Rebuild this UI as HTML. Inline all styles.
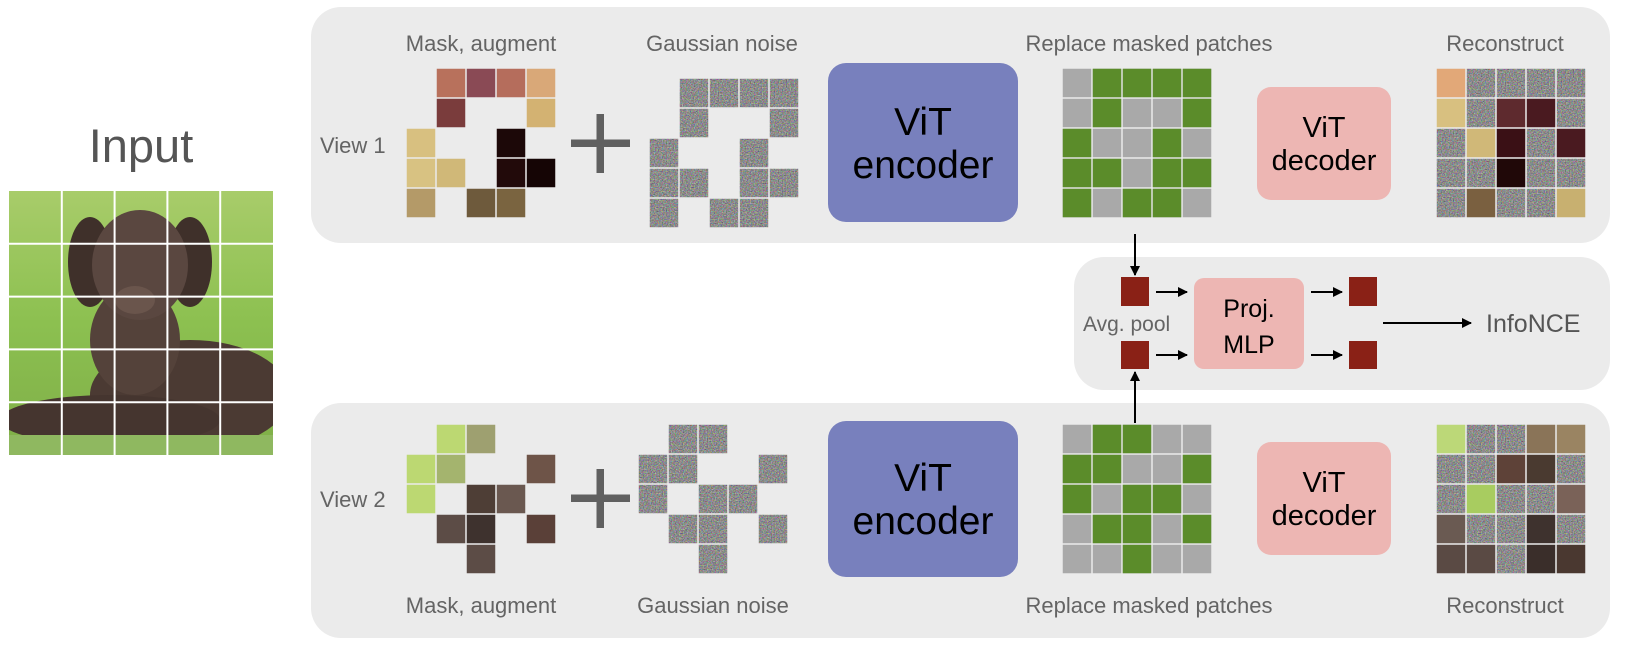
<!DOCTYPE html>
<html><head><meta charset="utf-8"><style>
html,body{margin:0;padding:0;background:#fff}
svg{display:block}
text{font-family:"Liberation Sans",Arial,sans-serif}
</style></head><body>
<svg width="1626" height="646" viewBox="0 0 1626 646" xmlns="http://www.w3.org/2000/svg">
<defs>
<filter id="nz" x="0" y="0" width="1" height="1" color-interpolation-filters="sRGB">
<feTurbulence type="fractalNoise" baseFrequency="0.75" numOctaves="2" seed="3" result="t"/>
<feColorMatrix in="t" type="matrix" values="0.75 0 0 0 0.17  0 0.75 0 0 0.17  0 0 0.75 0 0.17  0 0 0 0 1" result="c"/>
<feComposite in="c" in2="SourceGraphic" operator="in"/>
</filter>
<g id="topcells">
<rect x="30.75" y="0.75" width="28.5" height="28.5"/><rect x="60.75" y="0.75" width="28.5" height="28.5"/><rect x="90.75" y="0.75" width="28.5" height="28.5"/><rect x="120.75" y="0.75" width="28.5" height="28.5"/>
<rect x="30.75" y="30.75" width="28.5" height="28.5"/><rect x="120.75" y="30.75" width="28.5" height="28.5"/>
<rect x="0.75" y="60.75" width="28.5" height="28.5"/><rect x="90.75" y="60.75" width="28.5" height="28.5"/>
<rect x="0.75" y="90.75" width="28.5" height="28.5"/><rect x="30.75" y="90.75" width="28.5" height="28.5"/><rect x="90.75" y="90.75" width="28.5" height="28.5"/><rect x="120.75" y="90.75" width="28.5" height="28.5"/>
<rect x="0.75" y="120.75" width="28.5" height="28.5"/><rect x="60.75" y="120.75" width="28.5" height="28.5"/><rect x="90.75" y="120.75" width="28.5" height="28.5"/>
</g>
<g id="botcells">
<rect x="30.75" y="0.75" width="28.5" height="28.5"/><rect x="60.75" y="0.75" width="28.5" height="28.5"/>
<rect x="0.75" y="30.75" width="28.5" height="28.5"/><rect x="30.75" y="30.75" width="28.5" height="28.5"/><rect x="120.75" y="30.75" width="28.5" height="28.5"/>
<rect x="0.75" y="60.75" width="28.5" height="28.5"/><rect x="60.75" y="60.75" width="28.5" height="28.5"/><rect x="90.75" y="60.75" width="28.5" height="28.5"/>
<rect x="30.75" y="90.75" width="28.5" height="28.5"/><rect x="60.75" y="90.75" width="28.5" height="28.5"/><rect x="120.75" y="90.75" width="28.5" height="28.5"/>
<rect x="60.75" y="120.75" width="28.5" height="28.5"/>
</g>
<pattern id="gp" patternUnits="userSpaceOnUse" width="30" height="30"><rect x="0.75" y="0.75" width="28.5" height="28.5" fill="#a9a9a9"/></pattern>
<linearGradient id="bg" x1="0" y1="0" x2="0" y2="1"><stop offset="0" stop-color="#a8cc6a"/><stop offset="0.5" stop-color="#8cc050"/><stop offset="1" stop-color="#7fae48"/></linearGradient>
<marker id="ah" viewBox="0 0 10 10" refX="9" refY="5" markerWidth="10" markerHeight="10" markerUnits="userSpaceOnUse" orient="auto"><path d="M0,0 L10,5 L0,10 z" fill="#000"/></marker>
<clipPath id="inclip"><rect x="9" y="191" width="264" height="264"/></clipPath>
</defs>

<text x="141" y="162" font-size="47" fill="#555" text-anchor="middle">Input</text>
<g clip-path="url(#inclip)">
<rect x="9" y="191" width="264" height="264" fill="url(#bg)"/>
<ellipse cx="190" cy="395" rx="100" ry="55" fill="#4b3a33"/>
<ellipse cx="110" cy="420" rx="110" ry="25" fill="#45352f"/>
<ellipse cx="135" cy="340" rx="45" ry="55" fill="#54423a"/>
<ellipse cx="90" cy="262" rx="22" ry="45" fill="#3f302a"/>
<ellipse cx="190" cy="262" rx="22" ry="45" fill="#3f302a"/>
<ellipse cx="140" cy="265" rx="48" ry="55" fill="#5a4740"/>
<ellipse cx="135" cy="300" rx="20" ry="14" fill="#6a554c"/>
<rect x="9" y="435" width="264" height="20" fill="#8fb860"/>
</g>
<g stroke="#fff" stroke-width="2">
<line x1="61.8" y1="191" x2="61.8" y2="455"/><line x1="114.6" y1="191" x2="114.6" y2="455"/><line x1="167.4" y1="191" x2="167.4" y2="455"/><line x1="220.2" y1="191" x2="220.2" y2="455"/>
<line x1="9" y1="243.8" x2="273" y2="243.8"/><line x1="9" y1="296.6" x2="273" y2="296.6"/><line x1="9" y1="349.4" x2="273" y2="349.4"/><line x1="9" y1="402.2" x2="273" y2="402.2"/>
</g>

<rect x="311" y="7" width="1299" height="236" rx="30" fill="#ebebeb"/>
<rect x="1074" y="257" width="536" height="133" rx="30" fill="#ebebeb"/>
<rect x="311" y="403" width="1299" height="235" rx="30" fill="#ebebeb"/>

<g font-size="22" fill="#646464" text-anchor="middle">
<text x="481" y="51">Mask, augment</text>
<text x="722" y="51">Gaussian noise</text>
<text x="1149" y="51">Replace masked patches</text>
<text x="1505" y="51">Reconstruct</text>
<text x="481" y="613">Mask, augment</text>
<text x="713" y="613">Gaussian noise</text>
<text x="1149" y="613">Replace masked patches</text>
<text x="1505" y="613">Reconstruct</text>
</g>
<g font-size="22" fill="#646464">
<text x="320" y="153">View 1</text>
<text x="320" y="507">View 2</text>
</g>

<g transform="translate(406,68)">
<rect x="30.75" y="0.75" width="28.5" height="28.5" fill="#b8715c"/><rect x="60.75" y="0.75" width="28.5" height="28.5" fill="#8a4a55"/><rect x="90.75" y="0.75" width="28.5" height="28.5" fill="#b56d5c"/><rect x="120.75" y="0.75" width="28.5" height="28.5" fill="#d9a878"/>
<rect x="30.75" y="30.75" width="28.5" height="28.5" fill="#7a3c3c"/><rect x="120.75" y="30.75" width="28.5" height="28.5" fill="#d3b272"/>
<rect x="0.75" y="60.75" width="28.5" height="28.5" fill="#d8c080"/><rect x="90.75" y="60.75" width="28.5" height="28.5" fill="#1c0808"/>
<rect x="0.75" y="90.75" width="28.5" height="28.5" fill="#d8c282"/><rect x="30.75" y="90.75" width="28.5" height="28.5" fill="#d0b878"/><rect x="90.75" y="90.75" width="28.5" height="28.5" fill="#220a0a"/><rect x="120.75" y="90.75" width="28.5" height="28.5" fill="#150505"/>
<rect x="0.75" y="120.75" width="28.5" height="28.5" fill="#b49a68"/><rect x="60.75" y="120.75" width="28.5" height="28.5" fill="#6e5a3c"/><rect x="90.75" y="120.75" width="28.5" height="28.5" fill="#7a6440"/>
</g>
<g transform="translate(406,424)">
<rect x="30.75" y="0.75" width="28.5" height="28.5" fill="#bcd872"/><rect x="60.75" y="0.75" width="28.5" height="28.5" fill="#9ea070"/>
<rect x="0.75" y="30.75" width="28.5" height="28.5" fill="#bcd872"/><rect x="30.75" y="30.75" width="28.5" height="28.5" fill="#a4b46e"/><rect x="120.75" y="30.75" width="28.5" height="28.5" fill="#6e5448"/>
<rect x="0.75" y="60.75" width="28.5" height="28.5" fill="#bcd872"/><rect x="60.75" y="60.75" width="28.5" height="28.5" fill="#4e3e36"/><rect x="90.75" y="60.75" width="28.5" height="28.5" fill="#6a5850"/>
<rect x="30.75" y="90.75" width="28.5" height="28.5" fill="#5c4c46"/><rect x="60.75" y="90.75" width="28.5" height="28.5" fill="#3e322e"/><rect x="120.75" y="90.75" width="28.5" height="28.5" fill="#5a4038"/>
<rect x="60.75" y="120.75" width="28.5" height="28.5" fill="#5c4c46"/>
</g>

<g fill="#606060">
<rect x="571" y="139.5" width="59" height="7.5"/><rect x="596.5" y="114" width="7.5" height="59"/>
<rect x="571" y="494.5" width="59" height="7.5"/><rect x="596.5" y="469" width="7.5" height="59"/>
</g>

<use href="#topcells" transform="translate(649,78)" fill="#888" filter="url(#nz)"/>
<use href="#botcells" transform="translate(638,424)" fill="#888" filter="url(#nz)"/>
<use href="#topcells" transform="translate(1436,68)" fill="#888" filter="url(#nz)"/>
<use href="#botcells" transform="translate(1436,424)" fill="#888" filter="url(#nz)"/>

<rect x="828" y="63" width="190" height="159" rx="18" fill="#7880bd"/>
<rect x="828" y="421" width="190" height="156" rx="18" fill="#7880bd"/>
<g font-size="39" fill="#000" text-anchor="middle">
<text x="923" y="135">ViT</text><text x="923" y="178">encoder</text>
<text x="923" y="491">ViT</text><text x="923" y="534">encoder</text>
</g>

<g transform="translate(1062,68)"><rect width="150" height="150" fill="url(#gp)"/><use href="#topcells" fill="#5b8c2a"/></g>
<g transform="translate(1062,424)"><rect width="150" height="150" fill="url(#gp)"/><use href="#botcells" fill="#5b8c2a"/></g>

<rect x="1257" y="87" width="134" height="113" rx="14" fill="#edb6b3"/>
<rect x="1257" y="442" width="134" height="113" rx="14" fill="#edb6b3"/>
<g font-size="29" fill="#000" text-anchor="middle">
<text x="1324" y="137">ViT</text><text x="1324" y="170">decoder</text>
<text x="1324" y="492">ViT</text><text x="1324" y="525">decoder</text>
</g>

<g transform="translate(1436,68)">
<rect x="0.75" y="0.75" width="28.5" height="28.5" fill="#e2a878"/>
<rect x="0.75" y="30.75" width="28.5" height="28.5" fill="#d8c080"/>
<rect x="60.75" y="30.75" width="28.5" height="28.5" fill="#5e2a2e"/><rect x="90.75" y="30.75" width="28.5" height="28.5" fill="#4a1a20"/>
<rect x="30.75" y="60.75" width="28.5" height="28.5" fill="#d0b878"/><rect x="60.75" y="60.75" width="28.5" height="28.5" fill="#3a1015"/><rect x="120.75" y="60.75" width="28.5" height="28.5" fill="#4a1a20"/>
<rect x="60.75" y="90.75" width="28.5" height="28.5" fill="#200808"/>
<rect x="30.75" y="120.75" width="28.5" height="28.5" fill="#7a6040"/><rect x="120.75" y="120.75" width="28.5" height="28.5" fill="#c8b070"/>
</g>
<g transform="translate(1436,424)">
<rect x="0.75" y="0.75" width="28.5" height="28.5" fill="#bcd878"/><rect x="90.75" y="0.75" width="28.5" height="28.5" fill="#8a7458"/><rect x="120.75" y="0.75" width="28.5" height="28.5" fill="#9a8462"/>
<rect x="60.75" y="30.75" width="28.5" height="28.5" fill="#5e4238"/><rect x="90.75" y="30.75" width="28.5" height="28.5" fill="#4a3a30"/>
<rect x="30.75" y="60.75" width="28.5" height="28.5" fill="#a8cc60"/><rect x="120.75" y="60.75" width="28.5" height="28.5" fill="#7a6258"/>
<rect x="0.75" y="90.75" width="28.5" height="28.5" fill="#6a5a52"/><rect x="90.75" y="90.75" width="28.5" height="28.5" fill="#3e322e"/>
<rect x="0.75" y="120.75" width="28.5" height="28.5" fill="#5a4a44"/><rect x="30.75" y="120.75" width="28.5" height="28.5" fill="#5a4a44"/><rect x="90.75" y="120.75" width="28.5" height="28.5" fill="#3a2e2a"/><rect x="120.75" y="120.75" width="28.5" height="28.5" fill="#4a3830"/>
</g>

<g fill="#8a2116">
<rect x="1121" y="277" width="28" height="29"/><rect x="1121" y="341" width="28" height="28"/>
<rect x="1349" y="277" width="28" height="29"/><rect x="1349" y="341" width="28" height="28"/>
</g>
<rect x="1194" y="278" width="110" height="91" rx="10" fill="#edb6b3"/>
<g font-size="25" fill="#000" text-anchor="middle">
<text x="1249" y="317">Proj.</text><text x="1249" y="353">MLP</text>
</g>
<text x="1083" y="331" font-size="21" fill="#646464">Avg. pool</text>
<text x="1486" y="332" font-size="25" fill="#555">InfoNCE</text>
<g stroke="#000" stroke-width="2" marker-end="url(#ah)">
<line x1="1156" y1="292" x2="1187" y2="292"/><line x1="1156" y1="355" x2="1187" y2="355"/>
<line x1="1311" y1="292" x2="1342" y2="292"/><line x1="1311" y1="355" x2="1342" y2="355"/>
<line x1="1383" y1="323" x2="1471" y2="323"/>
<line x1="1135" y1="234" x2="1135" y2="275"/>
<line x1="1135" y1="423" x2="1135" y2="372"/>
</g>
</svg>
</body></html>
